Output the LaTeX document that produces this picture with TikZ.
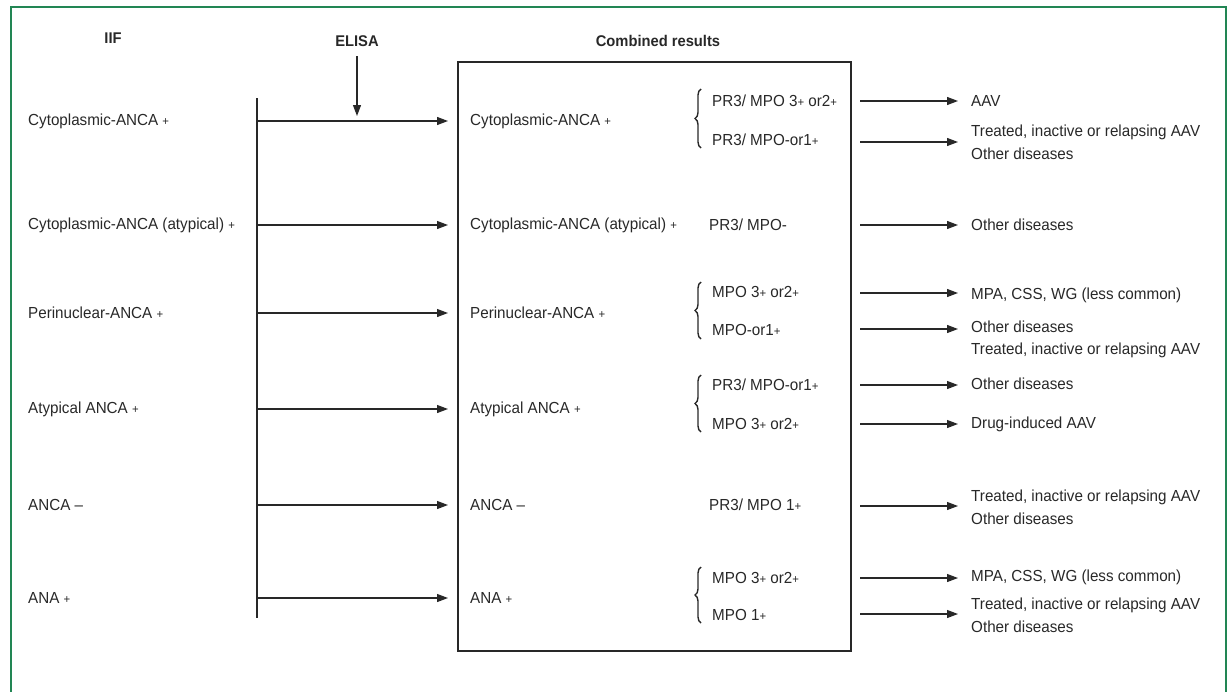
\documentclass[tikz,border=0pt]{standalone}
\usepackage{fontspec}
\setmainfont[FakeStretch=0.95]{Liberation Sans}
\usetikzlibrary{arrows.meta,decorations.pathreplacing}
\definecolor{frame}{RGB}{34,134,84}
\definecolor{ink}{RGB}{40,40,40}
\newcommand{\pl}{{\fontsize{12}{12}\selectfont +}}
\tikzset{
  lbl/.style={anchor=west, inner sep=0pt, text=ink, font=\fontsize{16}{23}\selectfont, align=left},
  head/.style={inner sep=0pt, text=ink, font=\fontsize{15.5}{17}\selectfont\bfseries},
  arr/.style={draw=ink, line width=1.2pt, -{Triangle[length=11pt,width=8pt]}},
  ln/.style={draw=ink, line width=1.2pt},
  brc/.style={draw=ink, line width=1.4pt, decorate, decoration={brace, amplitude=6pt}}
}
\begin{document}
\begin{tikzpicture}[x=1pt,y=-1pt]
\useasboundingbox (0,0) rectangle (1228,691);
\begin{scope}
\clip (0,0) rectangle (1228,691);
\draw[frame, line width=2pt] (11,7) rectangle (1226,720);
\end{scope}
% headers
\node[head] (iif) at (113,38) {IIF};
\node[head] (elisa) at (357,41) {ELISA};
\node[head] (comb) at (658,41) {Combined results};
% box
\node[ln, minimum width=393pt, minimum height=589pt, inner sep=0pt] (box) at (654.5,356.5) {};
% left labels
\node[lbl] (L1) at (28,121) {Cytoplasmic-ANCA \pl};
\node[lbl] (L2) at (28,225) {Cytoplasmic-ANCA (atypical) \pl};
\node[lbl] (L3) at (28,313) {Perinuclear-ANCA \pl};
\node[lbl] (L4) at (28,409) {Atypical ANCA \pl};
\node[lbl] (L5) at (28,505) {ANCA –};
\node[lbl] (L6) at (28,598) {ANA \pl};
% vertical bar
\coordinate (vt) at (257,98);
\coordinate (vb) at (257,618);
\draw[ln] (vt) -- (vb);
\foreach \i/\y in {1/121,2/225,3/313,4/409,5/505,6/598}{\coordinate (a\i) at (257,\y);}
% inner labels
\node[lbl] (C1) at (470,121) {Cytoplasmic-ANCA \pl};
\node[lbl] (C2) at (470,225) {Cytoplasmic-ANCA (atypical) \pl};
\node[lbl] (C3) at (470,313) {Perinuclear-ANCA \pl};
\node[lbl] (C4) at (470,409) {Atypical ANCA \pl};
\node[lbl] (C5) at (470,505) {ANCA –};
\node[lbl] (C6) at (470,598) {ANA \pl};
\foreach \i in {1,...,6}{\draw[arr, shorten >=22pt] (a\i) -- (C\i.west);}
% ELISA arrow
\coordinate (et) at (357,56);
\coordinate (eb) at (357,116);
\draw[arr] (et) -- (eb);
% sub labels
\node[lbl] (S1a) at (712,101) {PR3/ MPO 3\pl\ or2\pl};
\node[lbl] (S1b) at (712,140) {PR3/ MPO-or1\pl};
\node[lbl] (S2) at (709,225) {PR3/ MPO-};
\node[lbl] (S3a) at (712,292) {MPO 3\pl\ or2\pl};
\node[lbl] (S3b) at (712,330) {MPO-or1\pl};
\node[lbl] (S4a) at (712,385) {PR3/ MPO-or1\pl};
\node[lbl] (S4b) at (712,424) {MPO 3\pl\ or2\pl};
\node[lbl] (S5) at (709,505) {PR3/ MPO 1\pl};
\node[lbl] (S6a) at (712,578) {MPO 3\pl\ or2\pl};
\node[lbl] (S6b) at (712,615) {MPO 1\pl};
% braces
\draw[brc] (701,148) -- (701,89);
\draw[brc] (701,339) -- (701,282);
\draw[brc] (701,432) -- (701,375);
\draw[brc] (701,623) -- (701,567);
% right labels
\node[lbl] (R1a) at (971,101) {AAV};
\node[lbl] (R1b) at (971,142) {Treated, inactive or relapsing AAV\\Other diseases};
\node[lbl] (R2) at (971,225) {Other diseases};
\node[lbl] (R3a) at (971,295) {MPA, CSS, WG (less common)};
\node[lbl] (R3b) at (971,327) {Other diseases};
\node[lbl] (R3c) at (971,350) {Treated, inactive or relapsing AAV};
\node[lbl] (R4a) at (971,384) {Other diseases};
\node[lbl] (R4b) at (971,424) {Drug-induced AAV};
\node[lbl] (R5) at (971,507) {Treated, inactive or relapsing AAV\\Other diseases};
\node[lbl] (R6a) at (971,577) {MPA, CSS, WG (less common)};
\node[lbl] (R6b) at (971,615) {Treated, inactive or relapsing AAV\\Other diseases};
% right arrows
\foreach \n/\y in {R1a/101,R1b/142,R2/225,R3a/293,R3b/329,R4a/385,R4b/424,R5/506,R6a/578,R6b/614}{
  \coordinate (s\n) at (860,\y);
  \draw[arr, shorten >=13pt] (s\n) -- (\n.west |- s\n);
}
\end{tikzpicture}
\end{document}
